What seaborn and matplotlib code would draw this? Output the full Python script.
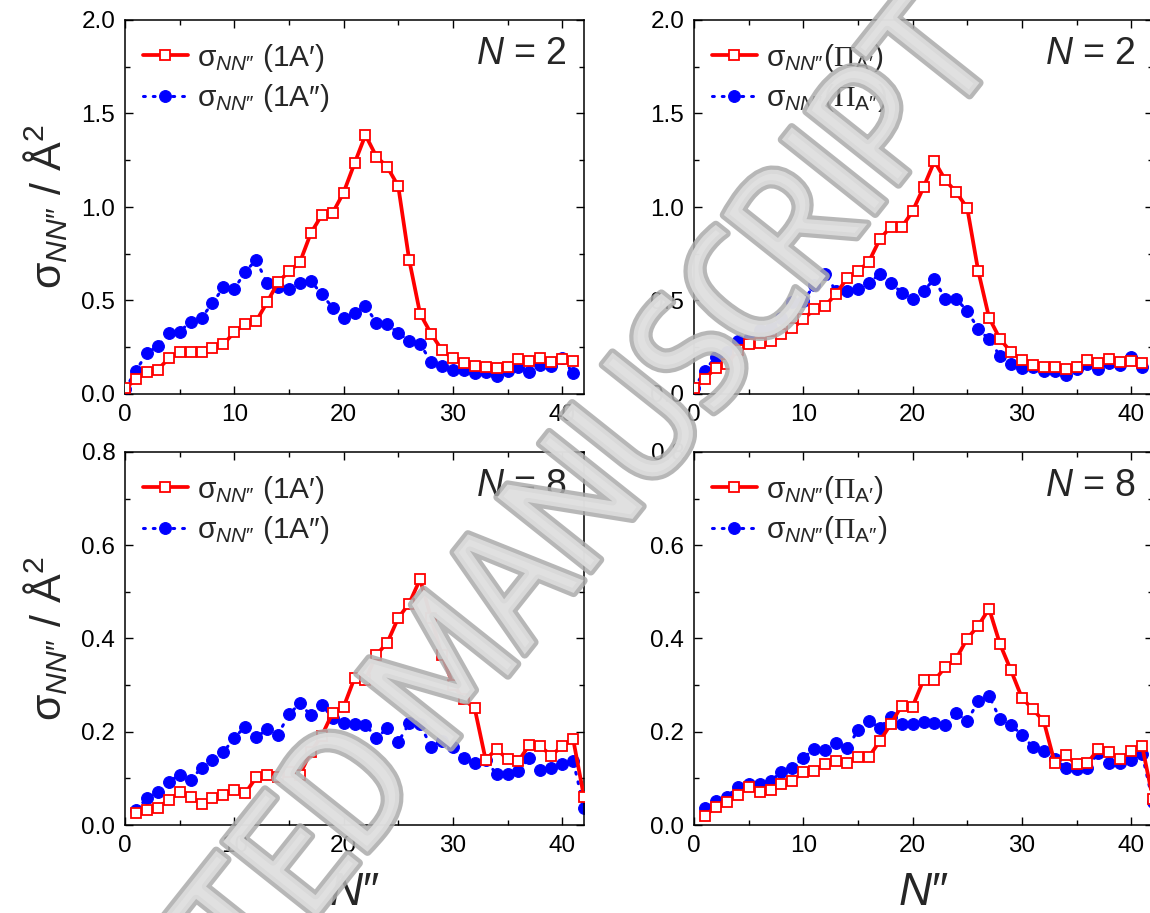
import matplotlib
matplotlib.use("Agg")
import os
import matplotlib.pyplot as plt
import matplotlib.patheffects as pe
from matplotlib.ticker import MultipleLocator, FormatStrFormatter
from matplotlib import font_manager
import pandas as pd
import seaborn as sns

# Rotational quantum number N'' of the product
n_top = list(range(0, 42))
n_bottom = list(range(1, 43))

# N = 2, 1A' / 1A'' surfaces
sigma_n2_1ap = [0.03, 0.078, 0.12, 0.13, 0.19, 0.226, 0.225, 0.225, 0.246, 0.266,
                0.33, 0.376, 0.389, 0.49, 0.597, 0.656, 0.704, 0.859, 0.957, 0.968,
                1.077, 1.233, 1.385, 1.27, 1.214, 1.112, 0.718, 0.43, 0.323, 0.235,
                0.19, 0.164, 0.15, 0.146, 0.137, 0.146, 0.187, 0.175, 0.193, 0.171,
                0.189, 0.178]
sigma_n2_1app = [0.025, 0.125, 0.217, 0.257, 0.324, 0.333, 0.387, 0.408, 0.485, 0.57,
                 0.561, 0.654, 0.717, 0.592, 0.574, 0.563, 0.592, 0.606, 0.533, 0.462,
                 0.405, 0.431, 0.472, 0.381, 0.373, 0.326, 0.285, 0.269, 0.171, 0.15,
                 0.127, 0.128, 0.112, 0.116, 0.096, 0.125, 0.144, 0.118, 0.157, 0.152,
                 0.194, 0.11]

# N = 2, Pi_A' / Pi_A'' components
sigma_n2_pap = [0.03, 0.082, 0.141, 0.16, 0.235, 0.27, 0.274, 0.283, 0.32, 0.351,
                0.399, 0.453, 0.472, 0.535, 0.619, 0.656, 0.708, 0.827, 0.895, 0.891,
                0.977, 1.105, 1.245, 1.144, 1.078, 0.995, 0.66, 0.408, 0.294, 0.225,
                0.182, 0.155, 0.143, 0.143, 0.134, 0.143, 0.18, 0.168, 0.189, 0.173,
                0.176, 0.164]
sigma_n2_papp = [0.03, 0.125, 0.2, 0.226, 0.285, 0.292, 0.34, 0.351, 0.408, 0.49,
                 0.499, 0.581, 0.64, 0.551, 0.551, 0.563, 0.594, 0.642, 0.595, 0.542,
                 0.508, 0.553, 0.613, 0.508, 0.506, 0.446, 0.348, 0.292, 0.203, 0.16,
                 0.141, 0.144, 0.123, 0.123, 0.102, 0.135, 0.159, 0.135, 0.164, 0.155,
                 0.2, 0.143]

# N = 8, 1A' / 1A'' surfaces
sigma_n8_1ap = [0.025, 0.032, 0.037, 0.054, 0.07, 0.06, 0.046, 0.058, 0.064, 0.074,
                0.068, 0.102, 0.107, 0.102, 0.113, 0.108, 0.157, 0.191, 0.241, 0.253,
                0.315, 0.311, 0.365, 0.391, 0.444, 0.475, 0.527, 0.445, 0.365, 0.301,
                0.27, 0.25, 0.14, 0.163, 0.141, 0.137, 0.172, 0.169, 0.149, 0.169,
                0.185, 0.06]
sigma_n8_1app = [0.033, 0.057, 0.071, 0.093, 0.107, 0.096, 0.123, 0.14, 0.156, 0.187,
                 0.211, 0.188, 0.205, 0.194, 0.237, 0.261, 0.235, 0.258, 0.23, 0.218,
                 0.216, 0.215, 0.187, 0.207, 0.178, 0.218, 0.216, 0.168, 0.18, 0.167,
                 0.144, 0.133, 0.139, 0.109, 0.109, 0.116, 0.144, 0.119, 0.122, 0.13,
                 0.138, 0.037]

# N = 8, Pi_A' / Pi_A'' components
sigma_n8_pap = [0.02, 0.039, 0.049, 0.065, 0.082, 0.07, 0.075, 0.087, 0.095, 0.114,
                0.115, 0.131, 0.137, 0.132, 0.146, 0.146, 0.18, 0.216, 0.256, 0.254,
                0.311, 0.31, 0.339, 0.357, 0.4, 0.427, 0.464, 0.388, 0.332, 0.273,
                0.248, 0.223, 0.134, 0.15, 0.13, 0.133, 0.163, 0.156, 0.142, 0.158,
                0.17, 0.055]
sigma_n8_papp = [0.037, 0.051, 0.061, 0.081, 0.089, 0.087, 0.095, 0.113, 0.123, 0.144,
                 0.163, 0.161, 0.175, 0.165, 0.203, 0.223, 0.209, 0.231, 0.216, 0.217,
                 0.22, 0.218, 0.215, 0.24, 0.223, 0.265, 0.277, 0.227, 0.214, 0.194,
                 0.167, 0.158, 0.142, 0.123, 0.12, 0.123, 0.155, 0.132, 0.132, 0.14,
                 0.152, 0.049]

labels_1a = ["σ$_{NN″}$ (1A′)", "σ$_{NN″}$ (1A″)"]
labels_pi = ["σ$_{NN″}$($\\mathsf{Π}_{\\mathrm{A′}}$)", "σ$_{NN″}$($\\mathsf{Π}_{\\mathrm{A″}}$)"]

sns.set_theme(style="ticks")
plt.rcParams.update({
    "font.family": ["Liberation Sans", "DejaVu Sans"],
    "mathtext.fontset": "custom",
    "mathtext.rm": "Liberation Sans",
    "mathtext.it": "Liberation Sans:italic",
    "mathtext.bf": "Liberation Sans:bold",
    "mathtext.sf": "Liberation Serif",
    "axes.linewidth": 1.1,
    "axes.edgecolor": "black",
    "xtick.color": "black",
    "ytick.color": "black",
})

fig = plt.figure(figsize=(11.5, 9.13), dpi=100)
W, H = 1150, 913


def add_axes(left, top, right, bottom):
    return fig.add_axes([left / W, 1 - bottom / H, (right - left) / W, (bottom - top) / H])


panels = [
    (add_axes(125, 20, 584, 394), n_top, sigma_n2_1ap, sigma_n2_1app, labels_1a, "2", 2.0),
    (add_axes(694, 20, 1153, 394), n_top, sigma_n2_pap, sigma_n2_papp, labels_pi, "2", 2.0),
    (add_axes(125, 452, 584, 825), n_bottom, sigma_n8_1ap, sigma_n8_1app, labels_1a, "8", 0.8),
    (add_axes(694, 452, 1153, 825), n_bottom, sigma_n8_pap, sigma_n8_papp, labels_pi, "8", 0.8),
]

for i, (ax, n, red_vals, blue_vals, labels, nval, ymax) in enumerate(panels):
    df = pd.DataFrame({"n": n, "a1": red_vals, "a2": blue_vals})
    sns.lineplot(data=df, x="n", y="a1", ax=ax, color="#ff0000", lw=2.7,
                 marker="s", markersize=6.5, markerfacecolor="white",
                 markeredgecolor="#ff0000", markeredgewidth=1.3, label=labels[0],
                 zorder=3)
    sns.lineplot(data=df, x="n", y="a2", ax=ax, color="#0000ff", lw=2.2,
                 linestyle=(0, (0.6, 2.6)), dash_capstyle="round",
                 marker="o", markersize=8.5, markeredgecolor="#0000ff",
                 markerfacecolor="#0000ff", label=labels[1], zorder=2)

    ax.set_xlim(0, 42)
    ax.set_ylim(0, ymax)
    major = 0.5 if ymax > 1 else 0.2
    ax.yaxis.set_major_locator(MultipleLocator(major))
    ax.yaxis.set_minor_locator(MultipleLocator(major / 2))
    ax.xaxis.set_major_locator(MultipleLocator(10))
    ax.xaxis.set_minor_locator(MultipleLocator(5))
    ax.yaxis.set_major_formatter(FormatStrFormatter("%.1f"))
    ax.tick_params(which="both", direction="in", top=True, right=True,
                   labelsize=17.5, pad=7, width=1.0)
    ax.tick_params(which="major", length=6)
    ax.tick_params(which="minor", length=3.5)
    ax.set_xlabel("")
    ax.set_ylabel("")

    ax.legend(loc="upper left", bbox_to_anchor=(0.0, 0.99), frameon=False,
              fontsize=21.5, handlelength=1.5, handletextpad=0.3,
              labelspacing=0.28, borderaxespad=0.2)

    ax.text(0.963, 0.91, f"$N$ = {nval}", transform=ax.transAxes,
            ha="right", va="center", fontsize=27)

    if i % 2 == 0:
        ax.set_ylabel("σ$_{NN″}$ / Å$^2$", fontsize=31, labelpad=8)
    if i >= 2:
        ax.set_xlabel("$N″$", fontsize=33, labelpad=10)

# Watermark stamped across the page, in a narrow face when one is installed
def narrow_font():
    best = None
    for entry in font_manager.fontManager.ttflist:
        base = os.path.basename(entry.fname).lower()
        if "narrow" not in base and "condensed" not in base:
            continue
        if "italic" in base or "oblique" in base or "extra" in base or "semi" in base:
            continue
        score = 0
        if "medium" in base:
            score += 3
        elif "bold" not in base and "black" not in base and "light" not in base and "thin" not in base:
            score += 2
        if "sans" in base:
            score += 1
        if best is None or score > best[0]:
            best = (score, entry.fname)
    return best[1] if best else None


wm_path = narrow_font()
if wm_path:
    wm_font = font_manager.FontProperties(fname=wm_path, size=116)
else:
    wm_font = font_manager.FontProperties(family="Liberation Sans", weight="bold", size=94)

fig.text(458 / W, 1 - 662 / H, "ACCEPTED MANUSCRIPT", rotation=51.5,
         rotation_mode="anchor", ha="center", va="center", fontproperties=wm_font,
         color="#e0e0e0", alpha=0.85, zorder=10,
         path_effects=[pe.withStroke(linewidth=6, foreground="#ababab")])

fig.savefig("out.png", dpi=100)
